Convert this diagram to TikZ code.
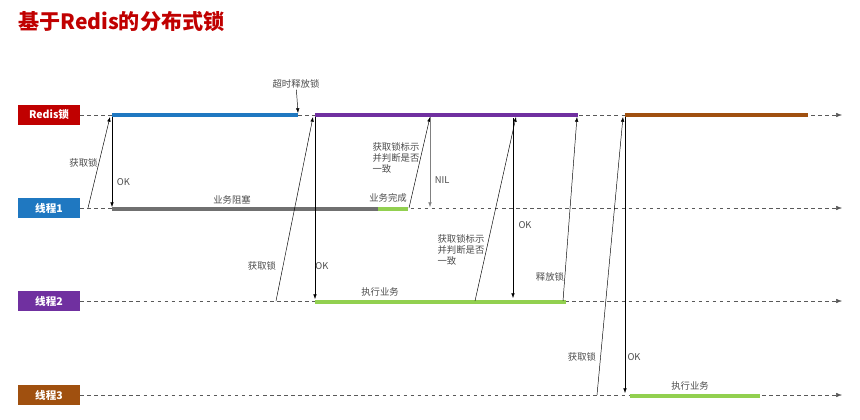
\documentclass[tikz,border=0pt]{standalone}
\usepackage{fontspec}
\setmainfont{Noto Sans CJK SC}
\usepackage{tikz}
\usetikzlibrary{arrows.meta}
\definecolor{redisred}{HTML}{C00000}
\definecolor{tblue}{HTML}{1F78C1}
\definecolor{tpurple}{HTML}{7030A0}
\definecolor{tbrown}{HTML}{A0500F}
\definecolor{tgreen}{HTML}{92D050}
\definecolor{tgray}{HTML}{707070}
\tikzset{
  lane/.style={minimum width=1.86cm,minimum height=0.6cm,text=white,font=\bfseries\fontsize{9}{10}\selectfont,inner sep=0pt},
  timeline/.style={dashed,thin,gray!70!black,-{Latex[length=5pt]}},
  busy/.style={line width=3pt},
  msg/.style={thin,-{Latex[length=4pt]}},
  lbl/.style={font=\fontsize{8}{9.5}\selectfont,text=gray!60!black,inner sep=1pt},
}
\begin{document}
\begin{tikzpicture}[x=0.03cm,y=-0.03cm]
        \useasboundingbox (0,0) rectangle (860,420);
        % title
        \node[anchor=west,text=redisred,font=\bfseries\fontsize{18}{20}\selectfont] (title) at (14,21) {基于Redis的分布式锁};

        % lanes
        \node[lane,fill=redisred] (redis) at (49,115) {Redis锁};
        \node[lane,fill=tblue] (t1) at (49,208) {线程1};
        \node[lane,fill=tpurple] (t2) at (49,301) {线程2};
        \node[lane,fill=tbrown] (t3) at (49,395) {线程3};
        \foreach \n/\y in {redis/115,t1/208,t2/301,t3/395}{
            \coordinate (\n end) at (842,\y);
            \draw[timeline] (\n.east) -- (\n end);
        }

        % busy segments
        \draw[busy,tblue] (112,115) -- (298,115);
        \draw[busy,tpurple] (315,115) -- (578,115);
        \draw[busy,tbrown] (625,115) -- (808,115);
        \draw[busy,tgray] (112,209) -- (378,209);
        \draw[busy,tgreen] (378,209) -- (408,209);
        \draw[busy,tgreen] (315,302) -- (566,302);
        \draw[busy,tgreen] (630,396) -- (760,396);

        % thread 1
        \coordinate (a1) at (88,208);  \coordinate (b1) at (110,117);
        \draw[msg] (a1) -- (b1) node[lbl,midway,left] {获取锁};
        \coordinate (a2) at (112,117); \coordinate (b2) at (112,207);
        \draw[msg] (a2) -- (b2) node[lbl,pos=0.72,right=3pt] {OK};
        \node[lbl] (timeout) at (296,84) {超时释放锁};
        \coordinate (b3) at (298,113);
        \draw[msg] (timeout) -- (b3);
        \node[lbl] (block) at (232,200) {业务阻塞};
        \node[lbl] (done) at (388,198) {业务完成};
        \coordinate (a4) at (409,208); \coordinate (b4) at (430,117);
        \draw[msg] (a4) -- (b4);
        \node[lbl,align=left] (check1) at (396,158) {获取锁标示\\并判断是否\\一致};
        \coordinate (a5) at (430,117); \coordinate (b5) at (430,207);
        \draw[msg,gray] (a5) -- (b5) node[lbl,pos=0.7,right=3pt] {NIL};

        % thread 2
        \coordinate (a6) at (276,301); \coordinate (b6) at (313,117);
        \draw[msg] (a6) -- (b6);
        \node[lbl] (get2) at (262,266) {获取锁};
        \coordinate (a7) at (315,117); \coordinate (b7) at (315,299);
        \draw[msg] (a7) -- (b7);
        \node[lbl] (ok2) at (322,266) {OK};
        \node[lbl] (run2) at (380,292) {执行业务};
        \coordinate (a8) at (475,301); \coordinate (b8) at (516,117);
        \draw[msg] (a8) -- (b8);
        \node[lbl,align=left] (check2) at (461,250) {获取锁标示\\并判断是否\\一致};
        \coordinate (a9) at (513,118); \coordinate (b9) at (513,298);
        \draw[msg] (a9) -- (b9);
        \node[lbl] (ok3) at (525,225) {OK};
        \coordinate (a10) at (563,301); \coordinate (b10) at (577,117);
        \draw[msg] (a10) -- (b10);
        \node[lbl] (rel) at (550,277) {释放锁};

        % thread 3
        \coordinate (a11) at (597,395); \coordinate (b11) at (623,117);
        \draw[msg] (a11) -- (b11);
        \node[lbl] (get3) at (582,357) {获取锁};
        \coordinate (a12) at (625,117); \coordinate (b12) at (625,393);
        \draw[msg] (a12) -- (b12);
        \node[lbl] (ok4) at (634,357) {OK};
        \node[lbl] (run3) at (690,386) {执行业务};
\end{tikzpicture}
\end{document}
